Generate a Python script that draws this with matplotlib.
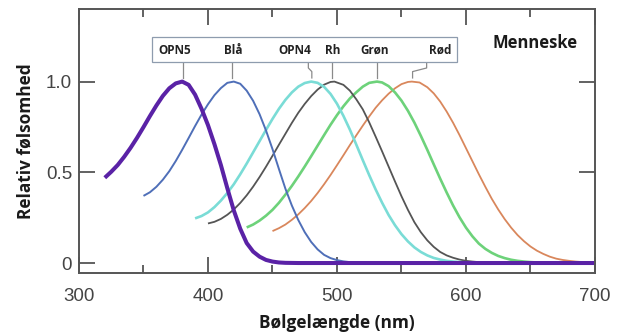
import matplotlib
matplotlib.use('Agg')
import matplotlib.pyplot as plt
from matplotlib.patches import Rectangle
from matplotlib.ticker import MultipleLocator, FixedLocator

# relativ følsomhed (nm, værdi)
opn5_nm = [320, 325, 330, 335, 340, 345, 350, 355, 360, 365, 370, 375, 380, 385, 390, 395, 400, 405, 410, 415,
           420, 425, 430, 435, 440, 445, 450, 455, 460, 470, 700]
opn5 = [0.47, 0.503, 0.54, 0.585, 0.635, 0.69, 0.749, 0.81, 0.868, 0.921, 0.963, 0.99, 1.0, 0.982, 0.928, 0.85,
        0.76, 0.655, 0.54, 0.412, 0.29, 0.189, 0.11, 0.063, 0.035, 0.017, 0.008, 0.003, 0.001, 0.0, 0.0]

blaa_nm = [350, 355, 360, 365, 370, 375, 380, 385, 390, 395, 400, 405, 410, 415, 420, 425, 430, 435, 440, 445,
           450, 455, 460, 465, 470, 475, 480, 485, 490, 495, 500, 505, 510, 515, 520, 525, 530, 700]
blaa = [0.37, 0.39, 0.42, 0.459, 0.506, 0.562, 0.624, 0.689, 0.755, 0.818, 0.875, 0.925, 0.964, 0.993, 1.0, 0.988,
        0.95, 0.894, 0.82, 0.73, 0.628, 0.518, 0.41, 0.317, 0.237, 0.17, 0.116, 0.075, 0.045, 0.027, 0.016, 0.009,
        0.005, 0.003, 0.002, 0.001, 0.0, 0.0]

opn4_nm = [390, 395, 400, 405, 410, 415, 420, 425, 430, 435, 440, 445, 450, 455, 460, 465, 470, 475, 480, 485,
           490, 495, 500, 505, 510, 515, 520, 525, 530, 535, 540, 545, 550, 555, 560, 565, 570, 575, 580, 585,
           590, 595, 600, 605, 610, 615, 620, 700]
opn4 = [0.246, 0.259, 0.279, 0.308, 0.344, 0.386, 0.434, 0.489, 0.548, 0.61, 0.672, 0.734, 0.794, 0.85, 0.899,
        0.94, 0.972, 0.992, 1.0, 0.993, 0.971, 0.932, 0.878, 0.811, 0.735, 0.652, 0.567, 0.484, 0.405, 0.332,
        0.265, 0.208, 0.159, 0.119, 0.086, 0.061, 0.042, 0.028, 0.019, 0.012, 0.008, 0.0055, 0.0035, 0.002,
        0.001, 0.0, 0.0, 0.0]

rh_nm = [400, 405, 410, 415, 420, 425, 430, 435, 440, 445, 450, 455, 460, 465, 470, 475, 480, 485, 490, 495,
         498, 505, 510, 515, 520, 525, 530, 535, 540, 545, 550, 555, 560, 565, 570, 575, 580, 585, 590, 595,
         600, 605, 610, 615, 620, 625, 630, 700]
rh = [0.218, 0.227, 0.243, 0.266, 0.295, 0.331, 0.373, 0.421, 0.474, 0.531, 0.591, 0.652, 0.712, 0.772, 0.828,
      0.877, 0.92, 0.956, 0.983, 0.998, 1.0, 0.982, 0.95, 0.902, 0.847, 0.775, 0.696, 0.615, 0.532, 0.449, 0.368,
      0.293, 0.225, 0.17, 0.125, 0.089, 0.061, 0.042, 0.029, 0.019, 0.012, 0.008, 0.005, 0.003, 0.002, 0.001,
      0.0, 0.0]

groen_nm = [430, 435, 440, 445, 450, 455, 460, 465, 470, 475, 480, 485, 490, 495, 500, 505, 510, 515, 520, 525,
            531, 535, 540, 545, 550, 555, 560, 565, 570, 575, 580, 585, 590, 595, 600, 605, 610, 615, 620, 625,
            630, 635, 640, 645, 650, 655, 660, 665, 670, 700]
groen = [0.196, 0.212, 0.234, 0.261, 0.293, 0.332, 0.377, 0.425, 0.477, 0.532, 0.589, 0.647, 0.705, 0.762, 0.815,
         0.864, 0.907, 0.941, 0.972, 0.993, 1.0, 0.995, 0.975, 0.94, 0.895, 0.839, 0.774, 0.701, 0.624, 0.544,
         0.465, 0.389, 0.317, 0.252, 0.195, 0.147, 0.107, 0.078, 0.056, 0.039, 0.027, 0.018, 0.012, 0.008, 0.005,
         0.003, 0.002, 0.001, 0.0, 0.0]

roed_nm = [450, 455, 460, 465, 470, 475, 480, 485, 490, 495, 500, 505, 510, 515, 520, 525, 530, 535, 540, 545,
           550, 555, 558, 564, 570, 575, 580, 585, 590, 595, 600, 605, 610, 615, 620, 625, 630, 635, 640, 645,
           650, 655, 660, 665, 670, 675, 680, 685, 690, 695, 700]
roed = [0.176, 0.192, 0.212, 0.238, 0.268, 0.303, 0.342, 0.386, 0.434, 0.485, 0.539, 0.594, 0.65, 0.704, 0.757,
        0.808, 0.856, 0.897, 0.933, 0.963, 0.986, 0.998, 1.0, 0.995, 0.969, 0.935, 0.89, 0.835, 0.773, 0.705,
        0.633, 0.561, 0.489, 0.42, 0.354, 0.295, 0.242, 0.195, 0.154, 0.12, 0.091, 0.068, 0.05, 0.035, 0.024,
        0.017, 0.012, 0.008, 0.0055, 0.004, 0.003]

labels = ['OPN5', 'Blå', 'OPN4', 'Rh', 'Grøn', 'Rød']
label_x = [374, 419.5, 467, 496.5, 529.5, 580]   # tekstens midte i boksen
leader_x = [380.5, 419, 477.8, 496.4, 531.3, 569.5]  # hvor stregen forlader boksen
peak_x = [380.5, 419, 480.5, 496.4, 531.3, 558.6]    # toppunkt

fig = plt.figure(figsize=(6.19, 3.36), dpi=100)
ax = fig.add_axes([0.1276, 0.1875, 0.8336, 0.7857])

kw = dict(solid_capstyle='butt', solid_joinstyle='round')
ax.plot(roed_nm, roed, color='#d9875c', lw=1.3, **kw)
ax.plot(groen_nm, groen, color='#6dd27a', lw=1.9, **kw)
ax.plot(rh_nm, rh, color='#555555', lw=1.3, **kw)
ax.plot(opn4_nm, opn4, color='#7adcd6', lw=1.9, **kw)
ax.plot(blaa_nm, blaa, color='#4f6fb8', lw=1.4, **kw)
ax.plot(opn5_nm, opn5, color='#5a22a6', lw=2.9, **kw)

ax.set_xlim(300, 700)
ax.set_ylim(-0.055, 1.40)

# boks med navne
box_y0, box_y1 = 1.109, 1.247
ax.add_patch(Rectangle((356.4, box_y0), 592.8 - 356.4, box_y1 - box_y0,
                       facecolor='white', edgecolor='#8e9cae', lw=0.9, zorder=3))
for lab, tx in zip(labels, label_x):
    ax.text(tx, 1.172, lab, ha='center', va='center', fontsize=8.5,
            fontweight='bold', family='Open Sans', color='#222222', zorder=4)
for lx, px in zip(leader_x, peak_x):
    ax.plot([lx, lx, px, px], [box_y0, 1.075, 1.055, 1.02], color='#8a8a8a', lw=0.9, zorder=2)

ax.text(653.5, 1.212, 'Menneske', ha='center', va='center', fontsize=12,
        fontweight='bold', family='Open Sans', color='#1a1a1a')

# akser
ax.xaxis.set_major_locator(MultipleLocator(100))
ax.xaxis.set_minor_locator(MultipleLocator(50))
ax.yaxis.set_major_locator(FixedLocator([0, 0.5, 1.0]))
ax.set_yticklabels(['0', '0.5', '1.0'])
ax.tick_params(which='major', direction='in', length=11.5, width=1.3, top=True, right=True,
               color='#555555', labelcolor='#444444', labelsize=13.5)
ax.tick_params(which='minor', direction='in', length=6, width=1.3, top=True, right=True, color='#555555')
ax.tick_params(axis='x', pad=11)
ax.tick_params(axis='y', pad=5)
for lab in ax.get_xticklabels() + ax.get_yticklabels():
    lab.set_family('Liberation Sans')
for sp in ax.spines.values():
    sp.set_color('#555555')
    sp.set_linewidth(1.4)

ax.set_xlabel('Bølgelængde (nm)', fontsize=12.4, fontweight='bold', family='Open Sans', color='#1a1a1a')
ax.set_ylabel('Relativ følsomhed', fontsize=12.4, fontweight='bold', family='Open Sans', color='#1a1a1a')
ax.xaxis.set_label_coords(0.5, -0.19)
ax.yaxis.set_label_coords(-0.103, 0.5)
ax.xaxis.label.set_va('center')
ax.yaxis.label.set_va('center')

fig.savefig('out.png', dpi=100)
